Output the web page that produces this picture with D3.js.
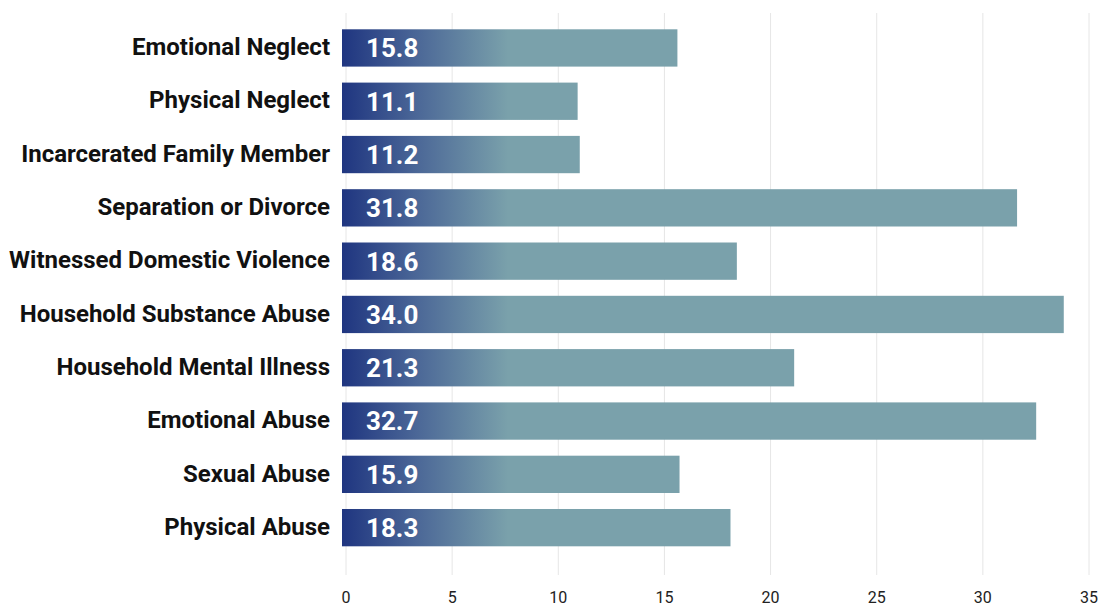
<!DOCTYPE html>
<html>
<head>
    <script src="https://d3js.org/d3.v7.min.js"></script>
    <style>
        body { margin: 0; background: #fff; }
        .cat { font-family: Roboto, sans-serif; font-weight: 700; font-size: 24px; fill: #111; }
        .val { font-family: Roboto, sans-serif; font-weight: 700; font-size: 26px; fill: #fff; }
        .tick-label { font-family: "Liberation Sans Narrow", Roboto, sans-serif; font-size: 16px; fill: #222; }
    </style>
</head>
<body>
    <div id="chart"></div>
    <script>
        // Data
        const categories = [
            "Emotional Neglect",
            "Physical Neglect",
            "Incarcerated Family Member",
            "Separation or Divorce",
            "Witnessed Domestic Violence",
            "Household Substance Abuse",
            "Household Mental Illness",
            "Emotional Abuse",
            "Sexual Abuse",
            "Physical Abuse"
        ];
        const values = [15.8, 11.1, 11.2, 31.8, 18.6, 34.0, 21.3, 32.7, 15.9, 18.3];
        const xTicks = [0, 5, 10, 15, 20, 25, 30, 35];

        const width = 1101, height = 606;

        const svg = d3.select("#chart")
            .append("svg")
            .attr("width", width)
            .attr("height", height);

        // gradient on the bars (fixed in page space)
        const defs = svg.append("defs");
        const grad = defs.append("linearGradient")
            .attr("id", "barGrad")
            .attr("gradientUnits", "userSpaceOnUse")
            .attr("x1", 342).attr("x2", 508)
            .attr("y1", 0).attr("y2", 0);
        grad.append("stop").attr("offset", "0%").attr("stop-color", "#1f3580");
        grad.append("stop").attr("offset", "45%").attr("stop-color", "#4b6797");
        grad.append("stop").attr("offset", "100%").attr("stop-color", "#7aa1ab");

        const x = d3.scaleLinear()
            .domain([0, 35])
            .range([346, 1089]);

        const y = d3.scaleBand()
            .domain(categories)
            .range([21.3, 554.3])
            .paddingInner(0.3)
            .paddingOuter(0.15);

        // grid lines
        svg.append("g")
            .selectAll("line")
            .data(xTicks)
            .join("line")
            .attr("x1", d => x(d))
            .attr("x2", d => x(d))
            .attr("y1", 13)
            .attr("y2", 575)
            .attr("stroke", "#e6e6e6")
            .attr("stroke-width", 1);

        // tick labels
        svg.append("g")
            .selectAll("text")
            .data(xTicks)
            .join("text")
            .attr("class", "tick-label")
            .attr("x", d => x(d))
            .attr("y", 603)
            .attr("text-anchor", "middle")
            .text(d => d);

        // bars
        svg.append("g")
            .selectAll("rect")
            .data(values)
            .join("rect")
            .attr("x", x(0) - 4)
            .attr("y", (d, i) => y(categories[i]))
            .attr("width", d => x(d) - x(0))
            .attr("height", y.bandwidth())
            .attr("fill", "url(#barGrad)");

        // value labels
        svg.append("g")
            .selectAll("text")
            .data(values)
            .join("text")
            .attr("class", "val")
            .attr("x", x(0) + 20)
            .attr("y", (d, i) => y(categories[i]) + y.bandwidth() / 2)
            .attr("dy", "0.36em")
            .text(d => d.toFixed(1));

        // category labels
        svg.append("g")
            .selectAll("text")
            .data(categories)
            .join("text")
            .attr("class", "cat")
            .attr("x", 330)
            .attr("y", d => y(d) + y.bandwidth() / 2)
            .attr("dy", "0.3em")
            .attr("text-anchor", "end")
            .text(d => d);
    </script>
</body>
</html>
